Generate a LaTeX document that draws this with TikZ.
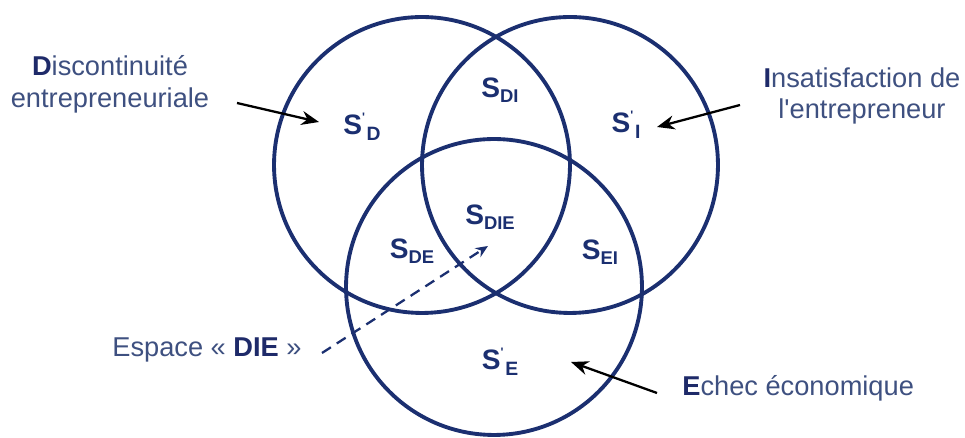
\documentclass[tikz,border=0pt]{standalone}
\usepackage{fontspec}
\setmainfont{Liberation Sans}
\usetikzlibrary{arrows.meta}
\definecolor{navy}{RGB}{27,47,112}
\definecolor{textblue}{RGB}{62,80,128}
\definecolor{initblue}{RGB}{30,42,105}
% S with a subscript, S with a mark and a subscript
\newcommand{\Ssub}[1]{\textbf{S}\raisebox{-2.6pt}{\fontsize{10.5}{11}\selectfont\bfseries #1}}
\newcommand{\Smark}[1]{\textbf{S}\raisebox{7.5pt}{\fontsize{7}{7}\selectfont\textquotesingle}\hspace{1pt}\raisebox{-3.4pt}{\fontsize{11}{12}\selectfont #1}}
\newcommand{\ini}[1]{\textbf{\color{initblue}#1}}

\begin{document}
\begin{tikzpicture}[x=0.02cm, y=-0.02cm,
  ring/.style={circle, draw=navy, line width=2.2pt, minimum size=5.92cm, inner sep=0pt},
  setlbl/.style={text=navy, font=\fontsize{16}{17}\selectfont\bfseries, inner sep=0pt},
  caption/.style={text=textblue, font=\fontsize{15.5}{18}\selectfont, align=center, inner sep=0pt},
  pointer/.style={draw=black, line width=1.3pt, -{Stealth[length=10pt,width=8pt]}},
  dashpointer/.style={draw=navy, line width=1.3pt, dash pattern=on 6pt off 4pt, -{Stealth[length=7pt,width=6pt]}}]
\useasboundingbox (0,0) rectangle (965,438);
% the three circles
\node[ring] (circD) at (422,165) {};
\node[ring] (circI) at (570,165) {};
\node[ring] (circE) at (494,287) {};
% region labels
\node[setlbl] (sD) at (362,127) {\Smark{D}};
\node[setlbl] (sI) at (626,125) {\Smark{I}};
\node[setlbl] (sE) at (500,362) {\Smark{E}};
\node[setlbl] (sDI) at (500,90) {\Ssub{DI}};
\node[setlbl] (sDIE) at (490,217) {\Ssub{DIE}};
\node[setlbl] (sDE) at (412,251) {\Ssub{DE}};
\node[setlbl] (sEI) at (600,252) {\Ssub{EI}};
% captions
\node[caption] (capD) at (110,84) {\ini{D}iscontinuité\\entrepreneuriale};
\node[caption] (capI) at (862,96) {\ini{I}nsatisfaction de\\l\textquotesingle entrepreneur};
\node[caption, anchor=west] (capDIE) at (112,350) {Espace « \ini{DIE} »};
\node[caption, anchor=west] (capE) at (682,388) {\ini{E}chec économique};
% arrows
\coordinate (startD) at (237,103);
\coordinate (tipD) at (319,122);
\coordinate (startI) at (740,105);
\coordinate (tipI) at (657,127);
\coordinate (startE) at (657,393);
\coordinate (tipE) at (571,362);
\coordinate (startDIE) at (322,353);
\coordinate (tipDIE) at (488,246);
\draw[pointer] (startD) -- (tipD);
\draw[pointer] (startI) -- (tipI);
\draw[pointer] (startE) -- (tipE);
\draw[dashpointer] (startDIE) -- (tipDIE);
\end{tikzpicture}
\end{document}
